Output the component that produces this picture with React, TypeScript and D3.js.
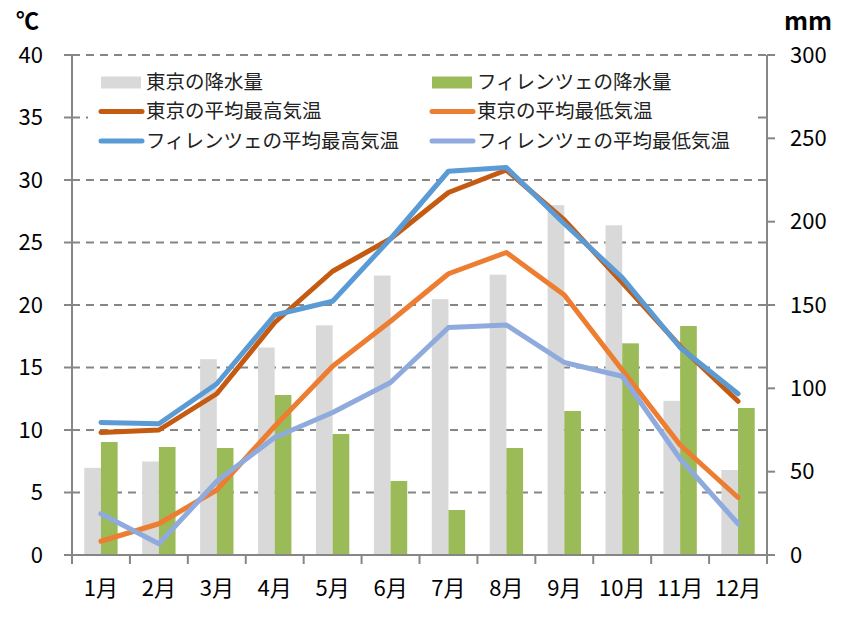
import React from "react";
import * as d3 from "d3";

const months = ["1月", "2月", "3月", "4月", "5月", "6月", "7月", "8月", "9月", "10月", "11月", "12月"];
const tokyoPrecip = [52.3, 56.1, 117.5, 124.5, 137.8, 167.7, 153.5, 168.2, 209.9, 197.8, 92.5, 51.0];
const florencePrecip = [67.8, 64.8, 64.2, 96.0, 72.6, 44.4, 27.0, 64.2, 86.4, 127.0, 137.4, 88.2];
const tokyoMax = [9.8, 10.0, 12.9, 18.6, 22.7, 25.3, 29.0, 30.8, 26.8, 21.8, 16.7, 12.3];
const tokyoMin = [1.1, 2.5, 5.2, 10.3, 15.1, 18.7, 22.5, 24.2, 20.8, 14.8, 8.8, 4.6];
const florenceMax = [10.6, 10.5, 13.7, 19.2, 20.3, 25.3, 30.7, 31.0, 26.5, 22.2, 16.6, 12.9];
const florenceMin = [3.3, 0.9, 5.9, 9.4, 11.4, 13.8, 18.2, 18.4, 15.4, 14.3, 7.7, 2.5];
const tempTicks = [0, 5, 10, 15, 20, 25, 30, 35, 40];
const precipTicks = [0, 50, 100, 150, 200, 250, 300];

const W = 851, H = 624;
const L = 72, R = 767, T = 55, B = 555;
const FONT = "'Noto Sans CJK JP', 'Noto Sans', sans-serif";
const AXIS = "#868686";

export default function App() {
  const x = d3.scaleBand<string>().domain(months).range([L, R]).padding(0);
  const yT = d3.scaleLinear().domain([0, 40]).range([B, T]);
  const yP = d3.scaleLinear().domain([0, 300]).range([B, T]);
  const bw = x.bandwidth();
  const barW = bw * 0.288;
  const cx = (m: string) => (x(m) as number) + bw / 2;

  const lineGen = (vals: number[]) =>
    d3.line<number>().x((_, i) => cx(months[i])).y((v) => yT(v))(vals) || "";

  const lines = [
    { vals: tokyoMax, color: "#C55A11", name: "東京の平均最高気温" },
    { vals: tokyoMin, color: "#ED7D31", name: "東京の平均最低気温" },
    { vals: florenceMax, color: "#5B9BD5", name: "フィレンツェの平均最高気温" },
    { vals: florenceMin, color: "#8FAADC", name: "フィレンツェの平均最低気温" },
  ];

  const legendItems = [
    { type: "bar", color: "#D9D9D9", name: "東京の降水量", col: 0, row: 0 },
    { type: "bar", color: "#9BBB59", name: "フィレンツェの降水量", col: 1, row: 0 },
    { type: "line", color: lines[0].color, name: lines[0].name, col: 0, row: 1 },
    { type: "line", color: lines[1].color, name: lines[1].name, col: 1, row: 1 },
    { type: "line", color: lines[2].color, name: lines[2].name, col: 0, row: 2 },
    { type: "line", color: lines[3].color, name: lines[3].name, col: 1, row: 2 },
  ];
  const colX = [101, 432];
  const rowY = [82.5, 111.5, 141];

  return (
    <svg width={W} height={H} style={{ position: "absolute", left: 0, top: 0, background: "#fff" }} fontFamily={FONT}>
      <rect x={0} y={0} width={W} height={H} fill="#fff" />
      {/* gridlines */}
      {tempTicks.filter((t) => t > 0).map((t) => (
        <line key={"g" + t} x1={L} x2={R} y1={yT(t)} y2={yT(t)} stroke={AXIS} strokeWidth={2} strokeDasharray="8,6" />
      ))}
      {/* bars */}
      {months.map((m, i) => (
        <g key={"b" + m}>
          <rect x={cx(m) - barW} y={yP(tokyoPrecip[i])} width={barW} height={B - yP(tokyoPrecip[i])} fill="#D9D9D9" />
          <rect x={cx(m)} y={yP(florencePrecip[i])} width={barW} height={B - yP(florencePrecip[i])} fill="#9BBB59" />
        </g>
      ))}
      {/* lines */}
      {lines.map((l) => (
        <path key={l.name} d={lineGen(l.vals)} fill="none" stroke={l.color} strokeWidth={5} strokeLinejoin="round" strokeLinecap="round" />
      ))}
      {/* legend */}
      <rect x={88} y={62} width={669} height={98} fill="#fff" />
      {legendItems.map((it) => {
        const lx = colX[it.col];
        const ly = rowY[it.row];
        return (
          <g key={it.name}>
            {it.type === "bar" ? (
              <rect x={lx} y={ly - 6} width={40} height={12} fill={it.color} />
            ) : (
              <line x1={lx} x2={lx + 41} y1={ly} y2={ly} stroke={it.color} strokeWidth={5} strokeLinecap="round" />
            )}
            <text x={lx + 45} y={ly} dy="0.35em" fontSize={19.5} fill="#222">{it.name}</text>
          </g>
        );
      })}
      {/* axes */}
      <line x1={L} x2={L} y1={T} y2={B} stroke={AXIS} strokeWidth={2} />
      <line x1={R} x2={R} y1={T} y2={B + 9} stroke={AXIS} strokeWidth={2} />
      <line x1={L - 8} x2={R + 8} y1={B} y2={B} stroke={AXIS} strokeWidth={2} />
      {tempTicks.map((t) => (
        <g key={"lt" + t}>
          <line x1={L - 8} x2={L} y1={yT(t)} y2={yT(t)} stroke={AXIS} strokeWidth={2} />
          <text x={43} y={yT(t)} dy="0.35em" textAnchor="end" fontSize={22} fill="#000">{t}</text>
        </g>
      ))}
      {precipTicks.map((p) => (
        <g key={"rt" + p}>
          <line x1={R} x2={R + 8} y1={yP(p)} y2={yP(p)} stroke={AXIS} strokeWidth={2} />
          <text x={790} y={yP(p)} dy="0.35em" textAnchor="start" fontSize={22} fill="#000">{p}</text>
        </g>
      ))}
      {months.map((m) => (
        <line key={"xt" + m} x1={x(m) as number} x2={x(m) as number} y1={B} y2={B + 9} stroke={AXIS} strokeWidth={2} />
      ))}
      {months.map((m) => (
        <text key={"xl" + m} x={cx(m)} y={596} textAnchor="middle" fontSize={22} fill="#000">{m}</text>
      ))}
      <text x={16} y={29} fontSize={23} fontWeight="bold" fill="#000">℃</text>
      <text x={784} y={30} fontSize={25} fontWeight="bold" fill="#000">mm</text>
    </svg>
  );
}
